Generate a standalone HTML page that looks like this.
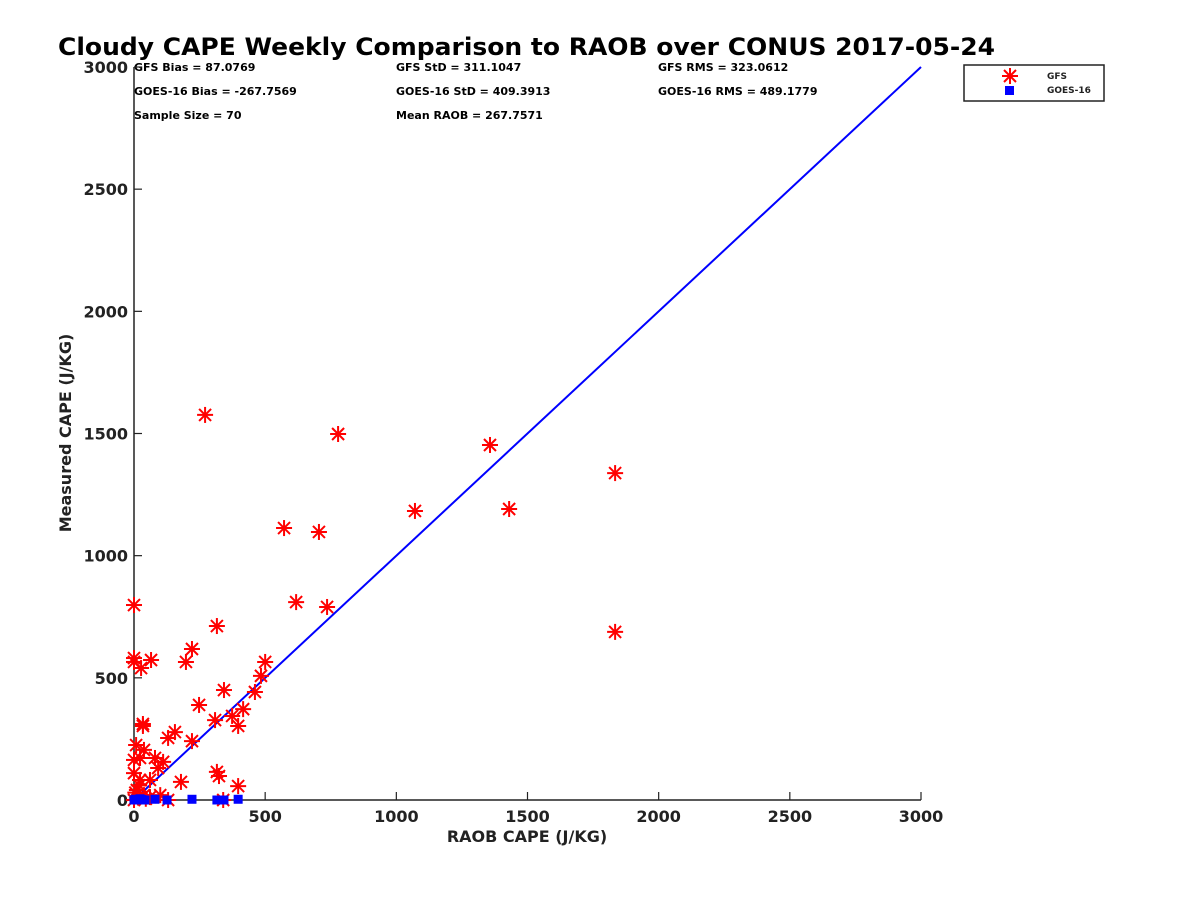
<!DOCTYPE html>
<html><head><meta charset="utf-8"><style>
body{margin:0;background:#fff;}
svg text{font-family:"DejaVu Sans","Liberation Sans",sans-serif;font-weight:bold;fill:#222;}
</style></head><body>
<svg id="c" width="1200" height="900" xmlns="http://www.w3.org/2000/svg">
<rect width="1200" height="900" fill="#fff"/>
<text x="58" y="55" font-size="24" textLength="937" lengthAdjust="spacingAndGlyphs" style="fill:#000">Cloudy CAPE Weekly Comparison to RAOB over CONUS 2017-05-24</text>
<g font-size="11">
<text x="134" y="71" style="fill:#000">GFS Bias = 87.0769</text>
<text x="396" y="71" style="fill:#000">GFS StD = 311.1047</text>
<text x="658" y="71" style="fill:#000">GFS RMS = 323.0612</text>
<text x="134" y="95" style="fill:#000">GOES-16 Bias = -267.7569</text>
<text x="396" y="95" style="fill:#000">GOES-16 StD = 409.3913</text>
<text x="658" y="95" style="fill:#000">GOES-16 RMS = 489.1779</text>
<text x="134" y="119" style="fill:#000">Sample Size = 70</text>
<text x="396" y="119" style="fill:#000">Mean RAOB = 267.7571</text>
</g>
<g id="axes"></g>
<g id="marks"></g>
<text x="527" y="842" font-size="16" text-anchor="middle">RAOB CAPE (J/KG)</text>
<text transform="translate(71,433) rotate(-90)" font-size="16" text-anchor="middle">Measured CAPE (J/KG)</text>
<g>
<rect x="964" y="65" width="140" height="36" fill="#fff" stroke="#222" stroke-width="1.5"/>
<g stroke="#f00" stroke-width="2"><line x1="1002" y1="76" x2="1018" y2="76"/><line x1="1010" y1="68" x2="1010" y2="84"/><line x1="1004" y1="70" x2="1016" y2="82"/><line x1="1016" y1="70" x2="1004" y2="82"/></g>
<rect x="1005" y="86" width="9" height="9" fill="#00f"/>
<text x="1047" y="79" font-size="9">GFS</text>
<text x="1047" y="93" font-size="9">GOES-16</text>
</g>
</svg>
<script>
const xTicks=[0,500,1000,1500,2000,2500,3000];
const yTicks=[0,500,1000,1500,2000,2500,3000];
const gfsX=[271,778,1357,1834,1071,1430,572,705,1834,618,736,0,316,0,0,65,27,221,198,500,484,461,343,248,309,416,374,397,34,34,156,130,221,0,0,23,8,38,80,61,111,92,179,316,324,397,23,11,130,340,0,61,100,38,5,15,45,20];
const gfsY=[1576,1498,1453,1338,1183,1191,1113,1097,688,810,790,798,712,581,565,573,540,618,565,565,508,442,450,389,327,372,344,303,311,303,278,254,241,164,110,172,225,205,172,82,156,131,74,115,98,57,82,41,0,0,0,12,20,20,30,10,5,60];
const goesX=[0,5,11,23,42,80,126,221,316,343,397,15,30];
const goesY=[0,3,0,5,0,3,0,3,0,0,3,0,2];
const X0=134,X1=921,Y0=800,Y1=67;
const xs=v=>X0+(v/3000)*(X1-X0), ys=v=>Y0-(v/3000)*(Y0-Y1);
const NS='http://www.w3.org/2000/svg';
function mk(t,a,p){const e=document.createElementNS(NS,t);for(const k in a)e.setAttribute(k,a[k]);p.appendChild(e);return e;}
const ax=document.getElementById('axes'),mg=document.getElementById('marks');
let l=mk('line',{x1:X0,y1:Y0,x2:X1,y2:Y0,stroke:'#222','stroke-width':1.5},ax);


l=mk('line',{x1:X0,y1:Y0,x2:X0,y2:Y1,stroke:'#222','stroke-width':1.5},ax);


xTicks.forEach(t=>{const x=xs(t);mk('line',{x1:x,y1:Y0,x2:x,y2:Y0-8,stroke:'#222','stroke-width':1.2},ax);
const tx=mk('text',{x:x,y:Y0+22,'font-size':16,'text-anchor':'middle'},ax);tx.textContent=t;

});
yTicks.forEach(t=>{const y=ys(t);mk('line',{x1:X0,y1:y,x2:X0+8,y2:y,stroke:'#222','stroke-width':1.2},ax);
const tx=mk('text',{x:X0-6,y:y+6,'font-size':16,'text-anchor':'end'},ax);tx.textContent=t;

});
l=mk('line',{x1:xs(0),y1:ys(0),x2:xs(3000),y2:ys(3000),stroke:'#00f','stroke-width':2},mg);


gfsX.forEach((v,i)=>{const x=xs(v),y=ys(gfsY[i]);const g=mk('g',{stroke:'#f00','stroke-width':2},mg);


mk('line',{x1:x-8,y1:y,x2:x+8,y2:y},g);mk('line',{x1:x,y1:y-8,x2:x,y2:y+8},g);
mk('line',{x1:x-6,y1:y-6,x2:x+6,y2:y+6},g);mk('line',{x1:x+6,y1:y-6,x2:x-6,y2:y+6},g);});
goesX.forEach((v,i)=>{const x=xs(v),y=ys(goesY[i]);const r=mk('rect',{x:x-4.5,y:y-4.5,width:9,height:9,fill:'#00f'},mg);

});
</script>
</body></html>
